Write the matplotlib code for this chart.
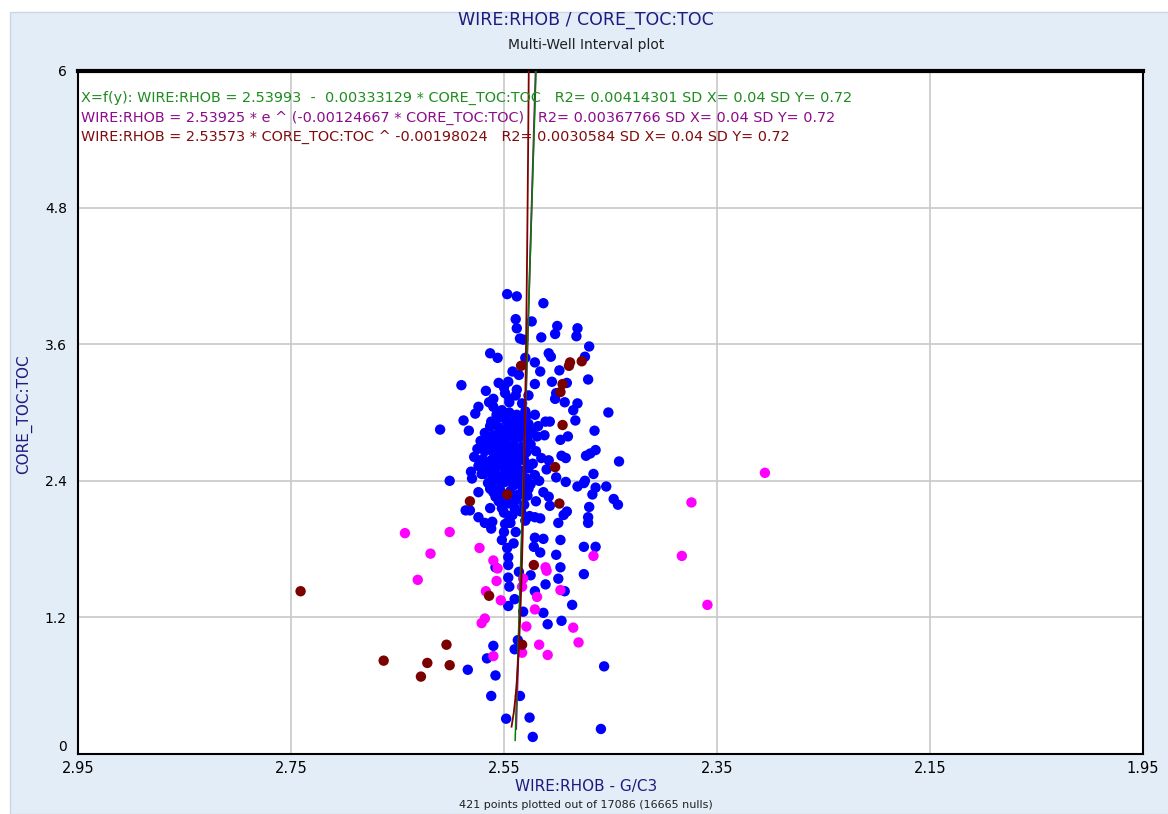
import numpy as np
import matplotlib
matplotlib.use("Agg")
import matplotlib.pyplot as plt
from matplotlib.patches import Rectangle

# ========== DATA ==========
# (WIRE:RHOB, CORE_TOC:TOC) pairs per well colour
blue = np.array([
    (2.547, 4.04), (2.538, 4.02), (2.513, 3.96), (2.539, 3.82), (2.524, 3.80),
    (2.538, 3.74), (2.500, 3.76), (2.481, 3.74), (2.502, 3.69), (2.515, 3.66),
    (2.482, 3.67), (2.535, 3.65), (2.532, 3.64), (2.470, 3.58), (2.563, 3.52),
    (2.556, 3.48), (2.508, 3.52), (2.506, 3.49), (2.474, 3.49), (2.530, 3.48),
    (2.521, 3.44), (2.498, 3.37), (2.542, 3.36), (2.516, 3.36), (2.536, 3.33),
    (2.471, 3.29), (2.505, 3.27), (2.491, 3.26), (2.555, 3.26), (2.546, 3.27),
    (2.521, 3.25), (2.590, 3.24), (2.567, 3.19), (2.549, 3.17), (2.539, 3.15),
    (2.527, 3.15), (2.501, 3.17), (2.502, 3.12), (2.560, 3.12), (2.564, 3.09),
    (2.545, 3.09), (2.493, 3.09), (2.481, 3.08), (2.574, 3.05), (2.577, 2.99),
    (2.485, 3.02), (2.452, 3.00), (2.521, 2.98), (2.511, 2.92), (2.507, 2.92),
    (2.483, 2.93), (2.588, 2.93), (2.610, 2.85), (2.583, 2.84), (2.465, 2.84),
    (2.524, 2.83), (2.519, 2.79), (2.497, 2.76), (2.490, 2.79),
    (2.496, 2.62), (2.492, 2.60), (2.473, 2.62), (2.464, 2.67), (2.469, 2.64),
    (2.442, 2.57), (2.508, 2.58), (2.466, 2.46), (2.501, 2.43), (2.492, 2.39),
    (2.481, 2.35), (2.474, 2.40), (2.464, 2.34), (2.454, 2.35), (2.467, 2.28),
    (2.447, 2.24), (2.443, 2.19), (2.508, 2.26), (2.507, 2.18), (2.470, 2.17),
    (2.471, 2.08), (2.471, 2.03), (2.491, 2.13), (2.494, 2.10), (2.499, 2.03),
    (2.516, 2.07), (2.521, 2.08), (2.513, 1.89), (2.521, 1.90), (2.497, 1.88),
    (2.475, 1.82), (2.464, 1.82), (2.522, 1.82), (2.516, 1.77), (2.501, 1.75),
    (2.497, 1.64), (2.475, 1.58), (2.525, 1.57), (2.499, 1.54), (2.511, 1.49),
    (2.475, 2.38),
    (2.601, 2.40), (2.581, 2.48), (2.571, 2.46), (2.580, 2.42), (2.563, 2.39),
    (2.574, 2.30), (2.563, 2.33), (2.553, 2.24), (2.586, 2.14), (2.582, 2.14),
    (2.563, 2.16), (2.574, 2.08), (2.568, 2.03), (2.561, 2.04), (2.562, 1.98),
    (2.549, 2.02), (2.544, 2.03), (2.550, 1.95), (2.539, 1.95), (2.552, 1.88),
    (2.541, 1.85), (2.547, 1.81), (2.546, 1.73), (2.546, 1.66), (2.536, 1.60),
    (2.558, 1.64), (2.546, 1.55), (2.545, 1.47), (2.540, 1.36), (2.546, 1.30),
    (2.521, 1.43), (2.532, 1.25), (2.513, 1.24), (2.493, 1.43), (2.486, 1.31),
    (2.509, 1.14), (2.496, 1.17), (2.537, 1.00), (2.540, 0.92), (2.560, 0.95),
    (2.566, 0.84), (2.584, 0.74), (2.558, 0.69), (2.562, 0.51), (2.535, 0.51),
    (2.548, 0.31), (2.526, 0.32), (2.523, 0.15), (2.456, 0.77), (2.459, 0.22),
    # dense core
    (2.560, 3.05), (2.552, 3.02), (2.545, 3.00), (2.538, 2.98), (2.530, 3.01),
    (2.556, 2.95), (2.548, 2.93), (2.541, 2.92), (2.534, 2.94), (2.527, 2.90),
    (2.563, 2.88), (2.555, 2.87), (2.547, 2.86), (2.539, 2.85), (2.531, 2.84),
    (2.568, 2.82), (2.560, 2.80), (2.552, 2.79), (2.544, 2.80), (2.536, 2.78),
    (2.528, 2.76), (2.572, 2.75), (2.565, 2.73), (2.557, 2.72), (2.549, 2.74),
    (2.541, 2.71), (2.533, 2.70), (2.525, 2.72), (2.575, 2.68), (2.568, 2.66),
    (2.560, 2.65), (2.552, 2.67), (2.544, 2.64), (2.536, 2.63), (2.529, 2.65),
    (2.578, 2.61), (2.570, 2.59), (2.562, 2.58), (2.554, 2.60), (2.546, 2.57),
    (2.538, 2.56), (2.531, 2.58), (2.523, 2.55), (2.574, 2.53), (2.566, 2.52),
    (2.558, 2.51), (2.550, 2.53), (2.542, 2.50), (2.534, 2.49), (2.527, 2.51),
    (2.569, 2.46), (2.561, 2.45), (2.553, 2.44), (2.545, 2.46), (2.537, 2.43),
    (2.529, 2.42), (2.521, 2.45), (2.565, 2.38), (2.557, 2.37), (2.549, 2.39),
    (2.541, 2.36), (2.533, 2.35), (2.525, 2.37), (2.560, 2.30), (2.552, 2.29),
    (2.544, 2.31), (2.536, 2.28), (2.528, 2.27), (2.555, 2.22), (2.547, 2.20),
    (2.539, 2.23), (2.531, 2.19), (2.550, 2.12), (2.542, 2.10), (2.534, 2.13),
    (2.526, 2.09), (2.518, 2.88), (2.512, 2.80), (2.520, 2.66), (2.515, 2.60),
    (2.510, 2.50), (2.517, 2.40), (2.513, 2.30), (2.520, 2.22), (2.545, 3.12),
    (2.538, 3.20), (2.550, 3.22), (2.533, 3.08),
    (2.557, 2.98), (2.549, 2.96), (2.542, 2.89), (2.535, 2.87), (2.529, 2.97),
    (2.562, 2.92), (2.553, 2.83), (2.546, 2.82), (2.540, 2.77), (2.532, 2.80),
    (2.566, 2.78), (2.559, 2.76), (2.551, 2.70), (2.543, 2.68), (2.535, 2.67),
    (2.571, 2.71), (2.563, 2.69), (2.556, 2.63), (2.548, 2.61), (2.540, 2.60),
    (2.532, 2.61), (2.573, 2.57), (2.565, 2.55), (2.557, 2.55), (2.549, 2.48),
    (2.541, 2.47), (2.533, 2.45), (2.567, 2.49), (2.559, 2.41), (2.551, 2.42),
    (2.543, 2.40), (2.535, 2.39), (2.527, 2.33), (2.562, 2.34), (2.554, 2.33),
    (2.546, 2.25), (2.538, 2.25), (2.558, 2.26), (2.552, 2.16), (2.540, 2.16),
    (2.530, 2.05), (2.545, 2.06),
])

magenta = np.array([
    (2.643, 1.94), (2.601, 1.95), (2.619, 1.76), (2.631, 1.53), (2.573, 1.81),
    (2.560, 1.70), (2.556, 1.63), (2.557, 1.52), (2.567, 1.43), (2.553, 1.35),
    (2.533, 1.47), (2.532, 1.54), (2.519, 1.38), (2.521, 1.27), (2.511, 1.64),
    (2.510, 1.61), (2.497, 1.44), (2.466, 1.74), (2.568, 1.19), (2.571, 1.15),
    (2.529, 1.12), (2.485, 1.11), (2.480, 0.98), (2.517, 0.96), (2.509, 0.87),
    (2.560, 0.86), (2.533, 0.89), (2.305, 2.47), (2.374, 2.21), (2.383, 1.74),
    (2.359, 1.31),
])

maroon = np.array([
    (2.534, 3.41), (2.488, 3.44), (2.489, 3.41), (2.477, 3.45), (2.495, 3.25),
    (2.497, 3.18), (2.495, 2.89), (2.502, 2.52), (2.582, 2.22), (2.547, 2.28),
    (2.498, 2.20), (2.522, 1.66), (2.564, 1.39), (2.533, 0.96), (2.663, 0.82),
    (2.604, 0.96), (2.622, 0.80), (2.601, 0.78), (2.628, 0.68), (2.741, 1.43),
])

# regression coefficients shown on the chart
lin_a, lin_b = 2.53993, -0.00333129
exp_a, exp_b = 2.53925, -0.00124667
pow_a, pow_b = 2.53573, -0.00198024

eq_lines = [
    "X=f(y): WIRE:RHOB = 2.53993  -  0.00333129 * CORE_TOC:TOC   R2= 0.00414301 SD X= 0.04 SD Y= 0.72",
    "WIRE:RHOB = 2.53925 * e ^ (-0.00124667 * CORE_TOC:TOC)   R2= 0.00367766 SD X= 0.04 SD Y= 0.72",
    "WIRE:RHOB = 2.53573 * CORE_TOC:TOC ^ -0.00198024   R2= 0.0030584 SD X= 0.04 SD Y= 0.72",
]
eq_colors = ["#1f8c1f", "#8b0d8b", "#7f0d0d"]

x_ticks = [2.95, 2.75, 2.55, 2.35, 2.15, 1.95]
y_ticks = [0, 1.2, 2.4, 3.6, 4.8, 6]
y_ticklabels = ["0", "1.2", "2.4", "3.6", "4.8", "6"]

# ========== FIGURE ==========
W, H = 1168, 814
fig = plt.figure(figsize=(W / 100, H / 100), dpi=100, facecolor="white")
fig.patches.append(Rectangle((10 / W, 0), 1, 1 - 12 / H, transform=fig.transFigure,
                             facecolor="#e3edf7", edgecolor="#c9d6e3", lw=1, zorder=-10))

ax = fig.add_axes([78 / W, 1 - 754 / H, (1143 - 78) / W, (754 - 71) / H])
ax.set_facecolor("white")
ax.set_xlim(2.95, 1.95)
ax.set_ylim(0, 6)

ax.set_xticks(x_ticks)
ax.set_xticklabels([f"{t:.2f}" for t in x_ticks], fontsize=10.5, family="Liberation Sans Narrow")
ax.set_yticks(y_ticks)
ax.set_yticklabels(y_ticklabels, fontsize=10, family="DejaVu Sans")
ax.tick_params(length=0, pad=8)
ax.tick_params(axis="x", pad=5)
# the zero label sits a little above the corner, as in the original
ax.get_yticklabels()[0].set_va("bottom")
ax.grid(True, color="#c8c8c8", lw=1.2)
ax.set_axisbelow(True)
for side in ["left", "right", "bottom"]:
    ax.spines[side].set_linewidth(1.5)
ax.spines["top"].set_linewidth(3)

ax.scatter(blue[:, 0], blue[:, 1], s=56, color="#0000ff", edgecolors="none", zorder=3)
ax.scatter(magenta[:, 0], magenta[:, 1], s=56, color="#ff00ff", edgecolors="none", zorder=4)
ax.scatter(maroon[:, 0], maroon[:, 1], s=56, color="#7b0000", edgecolors="none", zorder=4)

# fitted curves, X = f(TOC)
toc_lin = np.linspace(0.12, 6.5, 50)
toc_exp = np.linspace(0.22, 6.5, 50)
toc_pow = np.linspace(0.24, 6.5, 50)
ax.plot(exp_a * np.exp(exp_b * toc_exp), toc_exp, color="#a000a0", lw=1.3, zorder=5)
ax.plot(lin_a + lin_b * toc_lin, toc_lin, color="#008000", lw=1.1, zorder=5)
ax.plot(pow_a * toc_pow ** pow_b, toc_pow, color="#800000", lw=1.3, zorder=6)

for i, (txt, col) in enumerate(zip(eq_lines, eq_colors)):
    ax.text(3 / (1143 - 78), 1 - (27 + 19.5 * i) / 683, txt, transform=ax.transAxes,
            color=col, fontsize=10.4, family="Liberation Sans Narrow", va="center", ha="left",
            zorder=7)

navy = "#1c1c80"
fig.text(586 / W, 1 - 20 / H, "WIRE:RHOB / CORE_TOC:TOC", ha="center", va="center",
         fontsize=12.5, color=navy, family="Liberation Sans Narrow")
fig.text(586 / W, 1 - 45 / H, "Multi-Well Interval plot", ha="center", va="center",
         fontsize=10, color="#202020", family="Liberation Sans Narrow")
fig.text(586 / W, 1 - 786 / H, "WIRE:RHOB - G/C3", ha="center", va="center",
         fontsize=11, color=navy, family="Liberation Sans Narrow")
fig.text(586 / W, 1 - 805 / H, "421 points plotted out of 17086 (16665 nulls)", ha="center",
         va="center", fontsize=8, color="#202020", family="Liberation Sans Narrow")
fig.text(24 / W, 1 - 414 / H, "CORE_TOC:TOC", ha="center", va="center", rotation=90,
         fontsize=11, color=navy, family="Liberation Sans Narrow")

fig.savefig("out.png", dpi=100, facecolor=fig.get_facecolor())
